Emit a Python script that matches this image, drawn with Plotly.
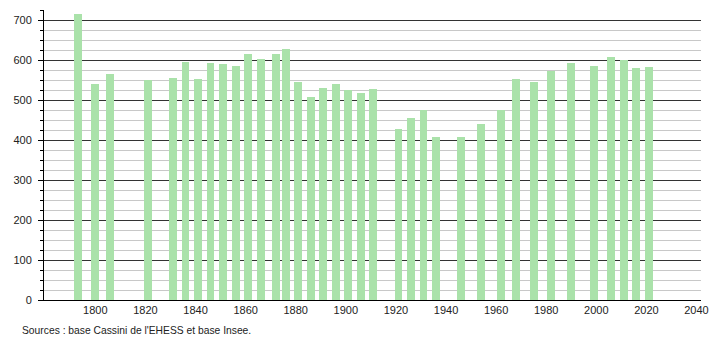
import plotly.graph_objects as go

years = [1793, 1800, 1806, 1821, 1831, 1836, 1841, 1846, 1851, 1856, 1861, 1866,
         1872, 1876, 1881, 1886, 1891, 1896, 1901, 1906, 1911, 1921, 1926, 1931,
         1936, 1946, 1954, 1962, 1968, 1975, 1982, 1990, 1999, 2006, 2011, 2016, 2021]
population = [715, 540, 565, 550, 555, 595, 552, 592, 590, 584, 615, 602,
              615, 627, 545, 507, 530, 540, 524, 517, 527, 427, 455, 474,
              407, 407, 440, 474, 552, 546, 573, 592, 585, 607, 600, 580, 582]
x_ticks = [1800, 1820, 1840, 1860, 1880, 1900, 1920, 1940, 1960, 1980, 2000, 2020, 2040]
y_ticks = [0, 100, 200, 300, 400, 500, 600, 700]
source_text = "Sources : base Cassini de l'EHESS et base Insee."

font = "Liberation Sans, Arial, sans-serif"

fig = go.Figure()
fig.add_trace(go.Bar(
    x=years, y=population, width=3.1,
    marker=dict(color="rgb(170,226,170)", line=dict(width=0)),
    hoverinfo="x+y",
))

fig.update_layout(
    width=710, height=340,
    margin=dict(l=44, r=9, t=10, b=40),
    paper_bgcolor="white", plot_bgcolor="white",
    showlegend=False,
    font=dict(family=font, size=11, color="#222"),
    xaxis=dict(
        range=[1779.5, 2041.8], automargin=False,
        tickvals=x_ticks, ticktext=[str(v) for v in x_ticks],
        showgrid=False, zeroline=False,
        showline=True, linecolor="#000", linewidth=1,
        ticks="", tickfont=dict(size=11, color="#222"),
    ),
    yaxis=dict(
        range=[0, 725], automargin=False,
        tickvals=y_ticks, ticktext=[str(v) for v in y_ticks],
        showgrid=True, gridcolor="#333", gridwidth=1,
        zeroline=False,
        showline=True, linecolor="#000", linewidth=1,
        ticks="outside", ticklen=5, tickcolor="#000",
        ticklabelstandoff=4,
        tickfont=dict(size=11, color="#222"),
        minor=dict(dtick=25, tick0=0, showgrid=True, gridcolor="#c8c8c8",
                   gridwidth=1, ticks="outside", ticklen=3, tickcolor="#000"),
    ),
    bargap=0,
)

fig.add_annotation(
    text=source_text, xref="paper", yref="paper",
    x=-0.037, y=-0.08, xanchor="left", yanchor="top",
    showarrow=False, font=dict(family=font, size=10.3, color="#222"),
)

fig.write_html("out.html")
